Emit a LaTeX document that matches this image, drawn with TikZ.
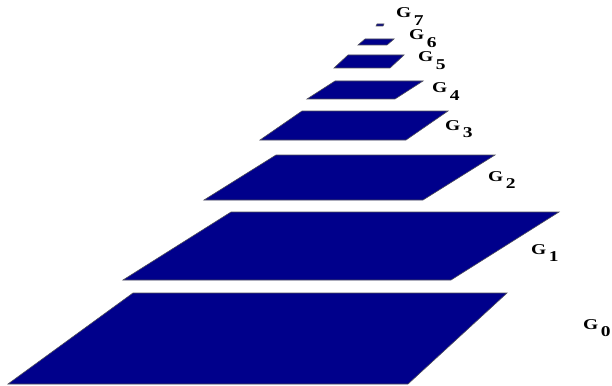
\documentclass[tikz,border=0pt]{standalone}
\usepackage{fontspec}
\setmainfont{Liberation Serif}
\definecolor{plane}{RGB}{0,0,139}
\definecolor{edge}{RGB}{80,80,90}
\tikzset{
  layer/.style={fill=plane, draw=edge, line width=0.6pt, line join=miter},
  lbl/.style={anchor=base west, inner sep=0pt, font=\bfseries\fontsize{15}{17}\selectfont}
}
\newcommand{\glab}[1]{\scalebox{1.3}[1]{G\hspace{2pt}\raisebox{-7.5pt}{#1}}}
\begin{document}
\begin{tikzpicture}[x=1pt,y=-1pt]
\useasboundingbox (0,0) rectangle (612,385);
% layers
\path[layer] (133,293) -- (507,293) -- (408,384) -- (8,384) -- cycle;
\path[layer] (231,212) -- (559,212) -- (451,280) -- (123,280) -- cycle;
\path[layer] (276,155) -- (495,155) -- (423,200) -- (204,200) -- cycle;
\path[layer] (302,111) -- (448,111) -- (406,140) -- (260,140) -- cycle;
\path[layer] (335,81) -- (423,81) -- (395,99) -- (307,99) -- cycle;
\path[layer] (348,55) -- (404,55) -- (390,68) -- (334,68) -- cycle;
\path[layer] (365,39) -- (394,39) -- (387,45) -- (358,45) -- cycle;
\path[layer] (377,24) -- (384,24) -- (383,26) -- (376,26) -- cycle;
% labels
\node[lbl] (g0) at (583,329) {\glab{0}};
\node[lbl] (g1) at (531,254) {\glab{1}};
\node[lbl] (g2) at (488,181) {\glab{2}};
\node[lbl] (g3) at (445,130) {\glab{3}};
\node[lbl] (g4) at (432,93) {\glab{4}};
\node[lbl] (g5) at (418,62) {\glab{5}};
\node[lbl] (g6) at (409,40) {\glab{6}};
\node[lbl] (g7) at (396,18) {\glab{7}};
\end{tikzpicture}
\end{document}
